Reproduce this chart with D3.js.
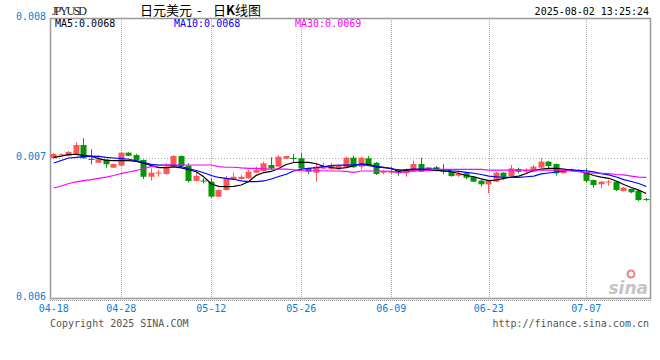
<!DOCTYPE html>
<html>
<head>
<meta charset="utf-8">
<script src="https://cdn.jsdelivr.net/npm/d3@7"></script>
<style>
    body { margin: 0; background: #fff; }
    .mono { font-family: "DejaVu Sans Mono", monospace; font-size: 10px; }
</style>
</head>
<body>
<div id="kline"></div>
<script>

// Trading days shown on the chart
var dates = ["04-18","04-19","04-20","04-21","04-22","04-23","04-24","04-25","04-26","04-28",
    "04-29","04-30","05-01","05-02","05-03","05-05","05-06","05-07","05-08","05-09",
    "05-10","05-12","05-13","05-14","05-15","05-16","05-17","05-19","05-20","05-21",
    "05-22","05-23","05-24","05-26","05-27","05-28","05-29","05-30","05-31","06-02",
    "06-03","06-04","06-05","06-06","06-07","06-09","06-10","06-11","06-12","06-13",
    "06-14","06-16","06-17","06-18","06-19","06-20","06-21","06-22","06-23","06-24",
    "06-25","06-26","06-27","06-28","06-30","07-01","07-02","07-03","07-04","07-05",
    "07-06","07-07","07-08","07-09","07-10","07-11","07-14","07-15","07-16","07-17"];

var openPrices = [0.006998,0.007021,0.007014,0.007029,0.007093,0.006993,0.006966,0.006991,0.006931,0.006945,
    0.007038,0.007021,0.006986,0.006866,0.006893,0.006886,0.006938,0.007014,0.006945,0.006836,
    0.006839,0.006831,0.006724,0.006771,0.006848,0.006850,0.006855,0.006895,0.006907,0.006950,
    0.006938,0.006995,0.007000,0.006998,0.006926,0.006895,0.006924,0.006921,0.006919,0.006934,
    0.007002,0.006938,0.006998,0.006966,0.006895,0.006895,0.006914,0.006891,0.006902,0.006957,
    0.006914,0.006934,0.006919,0.006902,0.006874,0.006891,0.006866,0.006838,0.006812,0.006831,
    0.006895,0.006871,0.006921,0.006902,0.006902,0.006931,0.006974,0.006957,0.006891,0.006918,
    0.006907,0.006902,0.006843,0.006812,0.006829,0.006831,0.006764,0.006779,0.006766,0.006707];

var highPrices = [0.007036,0.007032,0.007050,0.007112,0.007141,0.007062,0.007019,0.006993,0.006961,0.007043,
    0.007041,0.007029,0.006989,0.006926,0.006914,0.006962,0.007021,0.007018,0.006962,0.006898,
    0.006857,0.006855,0.006775,0.006871,0.006895,0.006879,0.006914,0.006938,0.006974,0.007005,
    0.007019,0.007016,0.007029,0.007034,0.006931,0.006966,0.006966,0.006966,0.006950,0.007009,
    0.007016,0.007009,0.007014,0.006971,0.006911,0.006938,0.006918,0.006925,0.006981,0.007002,
    0.006936,0.006943,0.006957,0.006907,0.006902,0.006893,0.006871,0.006843,0.006843,0.006902,
    0.006898,0.006950,0.006931,0.006926,0.006950,0.006998,0.006979,0.006961,0.006919,0.006925,
    0.006921,0.006926,0.006846,0.006836,0.006843,0.006836,0.006793,0.006782,0.006771,0.006716];

var lowPrices = [0.006993,0.007018,0.007011,0.007025,0.006996,0.006955,0.006964,0.006931,0.006929,0.006938,
    0.007014,0.006979,0.006850,0.006838,0.006866,0.006882,0.006936,0.006939,0.006826,0.006832,
    0.006819,0.006716,0.006721,0.006768,0.006843,0.006846,0.006852,0.006893,0.006904,0.006914,
    0.006936,0.006993,0.006966,0.006924,0.006886,0.006831,0.006921,0.006914,0.006916,0.006931,
    0.006929,0.006919,0.006946,0.006879,0.006884,0.006886,0.006874,0.006866,0.006900,0.006900,
    0.006911,0.006904,0.006886,0.006866,0.006866,0.006848,0.006829,0.006795,0.006748,0.006829,
    0.006843,0.006868,0.006891,0.006891,0.006900,0.006929,0.006926,0.006874,0.006888,0.006907,
    0.006900,0.006824,0.006788,0.006784,0.006802,0.006764,0.006761,0.006748,0.006693,0.006693];

var closePrices = [0.007029,0.007026,0.007043,0.007093,0.006998,0.006989,0.006991,0.006955,0.006957,0.007038,
    0.007016,0.006981,0.006866,0.006895,0.006896,0.006938,0.007014,0.006943,0.006836,0.006871,
    0.006836,0.006724,0.006771,0.006855,0.006866,0.006866,0.006902,0.006914,0.006962,0.006926,
    0.007009,0.007014,0.006996,0.006926,0.006902,0.006938,0.006943,0.006950,0.006945,0.007002,
    0.006934,0.007002,0.006950,0.006886,0.006907,0.006907,0.006891,0.006919,0.006957,0.006902,
    0.006934,0.006907,0.006902,0.006871,0.006886,0.006859,0.006831,0.006812,0.006838,0.006895,
    0.006866,0.006926,0.006902,0.006914,0.006938,0.006974,0.006943,0.006891,0.006914,0.006911,
    0.006914,0.006836,0.006807,0.006831,0.006832,0.006771,0.006788,0.006755,0.006700,0.006704];

// Moving averages as drawn (they include days before the first candle)
var ma5 = [0.007005,0.007014,0.007025,0.007026,0.007019,0.007011,0.006996,0.006982,0.006981,0.006981,
    0.006981,0.006976,0.006964,0.006946,0.006931,0.006931,0.006936,0.006929,0.006916,0.006902,
    0.006866,0.006814,0.006798,0.006795,0.006798,0.006807,0.006832,0.006876,0.006896,0.006904,
    0.006925,0.006954,0.006968,0.006969,0.006969,0.006959,0.006941,0.006932,0.006925,0.006931,
    0.006946,0.006957,0.006955,0.006939,0.006931,0.006926,0.006904,0.006911,0.006919,0.006914,
    0.006914,0.006911,0.006907,0.006902,0.006889,0.006875,0.006866,0.006851,0.006838,0.006843,
    0.006854,0.006864,0.006871,0.006889,0.006911,0.006921,0.006926,0.006926,0.006921,0.006914,
    0.006909,0.006893,0.006875,0.006864,0.006855,0.006836,0.006811,0.006789,0.006771,0.006746];

var ma10 = [0.006964,0.006982,0.007000,0.007005,0.007012,0.007014,0.007011,0.007004,0.007000,0.006995,
    0.006991,0.006979,0.006968,0.006955,0.006950,0.006950,0.006948,0.006939,0.006923,0.006911,
    0.006895,0.006875,0.006861,0.006854,0.006848,0.006836,0.006831,0.006831,0.006836,0.006850,
    0.006868,0.006884,0.006907,0.006921,0.006926,0.006931,0.006939,0.006945,0.006950,0.006949,
    0.006951,0.006954,0.006946,0.006939,0.006934,0.006923,0.006916,0.006917,0.006921,0.006921,
    0.006921,0.006920,0.006916,0.006909,0.006904,0.006898,0.006891,0.006882,0.006871,0.006866,
    0.006862,0.006862,0.006862,0.006866,0.006871,0.006886,0.006893,0.006900,0.006907,0.006913,
    0.006912,0.006909,0.006901,0.006889,0.006879,0.006864,0.006846,0.006832,0.006818,0.006796];

var ma30 = [0.006786,0.006800,0.006818,0.006829,0.006839,0.006846,0.006855,0.006864,0.006875,0.006889,
    0.006900,0.006911,0.006925,0.006938,0.006946,0.006950,0.006950,0.006950,0.006950,0.006950,
    0.006950,0.006950,0.006939,0.006934,0.006934,0.006929,0.006926,0.006926,0.006923,0.006921,
    0.006921,0.006921,0.006916,0.006909,0.006909,0.006909,0.006909,0.006907,0.006907,0.006904,
    0.006898,0.006907,0.006907,0.006907,0.006907,0.006904,0.006898,0.006900,0.006909,0.006909,
    0.006911,0.006919,0.006919,0.006919,0.006919,0.006919,0.006919,0.006919,0.006914,0.006914,
    0.006914,0.006914,0.006914,0.006914,0.006914,0.006914,0.006914,0.006914,0.006914,0.006907,
    0.006902,0.006896,0.006891,0.006891,0.006889,0.006882,0.006879,0.006871,0.006864,0.006861];

// Axis labels
var tickDates = ["04-18", "04-28", "05-12", "05-26", "06-09", "06-23", "07-07"];
var priceTicks = [0.006, 0.007, 0.008];


KLineVis = function(_parentElement) {
    this.parentElement = _parentElement;
    this.displayData = [];

    this.initVis();
};

/* INITIALIZE VISUALIZATION */
KLineVis.prototype.initVis = function() {
    var vis = this;

    vis.margin = { top: 18, right: 10, bottom: 62, left: 50 };

    vis.width = 660 - vis.margin.left - vis.margin.right,
        vis.height = 360 - vis.margin.top - vis.margin.bottom;

    vis.root = d3.select("#" + vis.parentElement).append("svg")
        .attr("width", 660)
        .attr("height", 360);

    // SVG drawing area
    vis.svg = vis.root.append("g")
        .attr("transform", "translate(" + vis.margin.left + "," + vis.margin.top + ")");

    // Scales and axes
    vis.x = d3.scaleBand()
        .domain(dates)
        .range([0, vis.width]);

    vis.y = d3.scaleLinear()
        .domain([0.006, 0.008])
        .range([vis.height, 0]);

    vis.xAxis = d3.axisBottom(vis.x)
        .tickValues(tickDates)
        .tickSize(0)
        .tickPadding(7);

    vis.yAxis = d3.axisLeft(vis.y)
        .tickValues(priceTicks)
        .tickFormat(d3.format(".3f"))
        .tickSize(0)
        .tickPadding(4);

    // Dotted grid
    vis.svg.selectAll(".vgrid")
        .data(tickDates.slice(1))
        .enter().append("line")
        .attr("class", "vgrid")
        .attr("x1", function(d) { return Math.round(vis.x(d) + vis.x.bandwidth() / 2) + 0.5; })
        .attr("x2", function(d) { return Math.round(vis.x(d) + vis.x.bandwidth() / 2) + 0.5; })
        .attr("y1", 0)
        .attr("y2", vis.height)
        .attr("stroke", "#aaa")
        .attr("stroke-dasharray", "1,1");

    vis.svg.append("line")
        .attr("x1", 0)
        .attr("x2", vis.width)
        .attr("y1", Math.round(vis.y(0.007)) + 0.5)
        .attr("y2", Math.round(vis.y(0.007)) + 0.5)
        .attr("stroke", "#aaa")
        .attr("stroke-dasharray", "1,2");

    // Frame
    vis.svg.append("rect")
        .attr("x", 0.5)
        .attr("y", 0.5)
        .attr("width", vis.width)
        .attr("height", vis.height)
        .attr("fill", "none")
        .attr("stroke", "#999")
        .attr("stroke-width", 1.5);

    vis.svg.append("line")
        .attr("x1", 0)
        .attr("x2", vis.width + 2)
        .attr("y1", vis.height + 2.5)
        .attr("y2", vis.height + 2.5)
        .attr("stroke", "#999")
        .attr("stroke-dasharray", "1,1");

    vis.svg.append("g")
        .attr("class", "x-axis axis mono")
        .attr("transform", "translate(0," + vis.height + ")");

    vis.svg.append("g")
        .attr("class", "y-axis axis mono");

    // Watermark
    vis.root.append("circle")
        .attr("cx", 631)
        .attr("cy", 274)
        .attr("r", 3.5)
        .attr("fill", "none")
        .attr("stroke", "#f08080")
        .attr("stroke-width", 2);
    vis.root.append("text")
        .attr("x", 648)
        .attr("y", 294)
        .attr("text-anchor", "end")
        .attr("font-family", "DejaVu Sans")
        .attr("font-style", "italic")
        .attr("font-weight", "bold")
        .attr("font-size", 17)
        .attr("fill", "#c4c4c4")
        .text("sina");

    vis.candleGroup = vis.svg.append("g").attr("class", "candles");
    vis.lineGroup = vis.svg.append("g").attr("class", "ma-lines");

    vis.line = d3.line()
        .x(function(d) { return vis.x(d.date) + vis.x.bandwidth() / 2; })
        .y(function(d) { return vis.y(d.value); });

    // Header texts
    vis.root.append("text")
        .attr("x", 52).attr("y", 15)
        .attr("font-family", "Liberation Serif")
        .attr("font-size", 12)
        .attr("textLength", 35)
        .attr("fill", "#222")
        .text("JPYUSD");

    vis.root.append("text")
        .attr("x", 140).attr("y", 15)
        .attr("font-family", "Noto Sans CJK SC")
        .attr("font-size", 13)
        .text("日元美元");
    vis.root.append("text")
        .attr("x", 197).attr("y", 15)
        .attr("font-family", "Noto Sans CJK SC")
        .attr("font-size", 13)
        .text("-");
    vis.root.append("text")
        .attr("x", 213).attr("y", 15)
        .attr("font-family", "Noto Sans CJK SC")
        .attr("font-size", 13)
        .html('日<tspan font-weight="bold">K</tspan>线图');

    vis.root.append("text")
        .attr("class", "mono")
        .attr("x", 649).attr("y", 15)
        .attr("text-anchor", "end")
        .text("2025-08-02 13:25:24");

    // MA legend
    var legend = [
        { label: "MA5:0.0068", x: 55, color: "#000" },
        { label: "MA10:0.0068", x: 174, color: "#0000ff" },
        { label: "MA30:0.0069", x: 295, color: "#ff00ff" }
    ];
    vis.root.selectAll(".legend")
        .data(legend)
        .enter().append("text")
        .attr("class", "legend mono")
        .attr("x", function(d) { return d.x; })
        .attr("y", 27)
        .attr("fill", function(d) { return d.color; })
        .text(function(d) { return d.label; });

    // Footer
    vis.root.append("text")
        .attr("class", "mono")
        .attr("x", 50).attr("y", 327)
        .attr("fill", "#555")
        .text("Copyright 2025 SINA.COM");
    vis.root.append("text")
        .attr("class", "mono")
        .attr("x", 649).attr("y", 327)
        .attr("text-anchor", "end")
        .attr("fill", "#555")
        .text("http://finance.sina.com.cn");

    // Filter, aggregate, modify data
    vis.wrangleData();
};

KLineVis.prototype.wrangleData = function() {
    var vis = this;

    vis.displayData = dates.map(function(d, i) {
        return {
            date: d,
            open: openPrices[i],
            high: highPrices[i],
            low: lowPrices[i],
            close: closePrices[i]
        };
    });

    vis.maData = [
        { color: "#000", values: ma5 },
        { color: "#0000ff", values: ma10 },
        { color: "#ff00ff", values: ma30 }
    ].map(function(s) {
        return {
            color: s.color,
            points: s.values.map(function(v, i) { return { date: dates[i], value: v }; })
        };
    });

    // Update visualization
    vis.updateVis();
};

KLineVis.prototype.updateVis = function() {
    var vis = this;
    var bw = vis.x.bandwidth();

    var candle = vis.candleGroup.selectAll(".candle")
        .data(vis.displayData)
        .enter().append("g")
        .attr("class", "candle");

    var colorOf = function(d) { return d.close >= d.open ? "#ff5555" : "#009900"; };

    candle.append("line")
        .attr("x1", function(d) { return Math.floor(vis.x(d.date) + bw / 2) + 0.5; })
        .attr("x2", function(d) { return Math.floor(vis.x(d.date) + bw / 2) + 0.5; })
        .attr("y1", function(d) { return vis.y(d.high); })
        .attr("y2", function(d) { return vis.y(d.low); })
        .attr("stroke", colorOf);

    candle.append("rect")
        .attr("x", function(d) { return Math.floor(vis.x(d.date) + bw / 2) - 2.5; })
        .attr("width", 6)
        .attr("y", function(d) { return vis.y(Math.max(d.open, d.close)); })
        .attr("height", function(d) {
            return Math.max(1, Math.abs(vis.y(d.open) - vis.y(d.close)));
        })
        .attr("fill", colorOf);

    // Moving average lines
    vis.lineGroup.selectAll(".ma")
        .data(vis.maData)
        .enter().append("path")
        .attr("class", "ma")
        .attr("fill", "none")
        .attr("stroke", function(d) { return d.color; })
        .attr("stroke-width", 1.2)
        .attr("d", function(d) { return vis.line(d.points); });

    // Axes
    vis.svg.select(".x-axis").call(vis.xAxis);
    vis.svg.select(".y-axis").call(vis.yAxis);

    vis.svg.selectAll(".axis .domain").remove();
    vis.svg.selectAll(".axis text")
        .attr("fill", "#0a7dd0")
        .style("font-family", "DejaVu Sans Mono")
        .style("font-size", "10px");

    vis.svg.selectAll(".y-axis text")
        .attr("dy", "0.12em");
};

new KLineVis("kline");

</script>
</body>
</html>
